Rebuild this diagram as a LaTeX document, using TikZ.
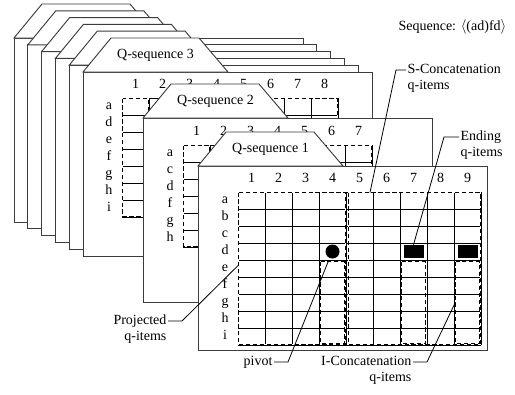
\documentclass[tikz,border=0pt]{standalone}
\usepackage{fontspec}
\setmainfont{Liberation Serif}
\usetikzlibrary{calc}
\definecolor{sheetgray}{RGB}{60,60,60}

\begin{document}
\begin{tikzpicture}[
  x=0.75pt,
  y=-0.75pt,
  sheet line/.style={
    draw=sheetgray,
    line width=0.7pt,
    fill=white
  },
  grid line/.style={
    draw=black,
    line width=0.65pt
  },
  item box/.style={
    draw=black,
    line width=1.1pt,
    dash pattern=on 3.2pt off 2pt
  },
  outer box/.style={
    item box,
    preaction={draw=white, solid, line width=1.3pt}
  },
  pointer/.style={
    draw=black,
    line width=0.6pt
  },
  label text/.style={
    font=\fontsize{10.5}{12}\selectfont,
    inner sep=1pt,
    text height=7.5pt,
    text depth=2.5pt
  },
  axis text/.style={
    label text,
    inner sep=0pt
  },
  tab text/.style={label text},
  pivot dot/.style={
    circle,
    fill=black,
    inner sep=0pt,
    minimum size=10.5pt
  },
  end mark/.style={
    rectangle,
    fill=black,
    inner sep=0pt,
    minimum width=15pt,
    minimum height=9.75pt
  },
  pics/sheet/.style={
    code={
      \draw[sheet line] (0,0) rectangle (\sheetw,\sheeth);
      \draw[sheet line] (0,0) -- (28,-34) -- (116,-34) -- (145,0) -- cycle;
    }
  },
  pics/qgrid/.style n args={3}{
    code={
      \foreach \ci in {0,...,#1}
        \draw[grid line] (\ci*\cw,0) -- (\ci*\cw,#2*\rh);
      \foreach \ri in {0,...,#2}
        \draw[grid line] (0,\ri*\rh) -- (#1*\cw,\ri*\rh);
      \foreach \ci in {1,...,#1}
        \node[axis text] (-col\ci) at (\ci*\cw-0.5*\cw,-12.5) {\ci};
      \foreach \rl [count=\ri] in {#3}
        \node[axis text] (-row\ri) at (-13,\ri*\rh-0.5*\rh) {\rl};
    }
  }
]

\def\sheetw{289}
\def\sheeth{184}
\def\cw{27}
\def\rh{17}

\useasboundingbox (0,0) rectangle (515,394);

% Earlier q-sequences, stacked from back to front.
\foreach \k in {0,...,4}{
  \pic at (14+13.8*\k,38+6.8*\k) {sheet};
}

% Q-sequence 3
\pic at (83,72) {sheet};
\node[tab text] (tab3) at (155.5,55) {Q-sequence 3};
\pic (g3) at (122,98) {qgrid={8}{7}{a,d,e,f,g,h,i}};
\begin{scope}[shift={(122,98)}]
  \draw[outer box] (0.5,0.5) rectangle (\cw-0.5,7*\rh-0.5);
  \draw[outer box] (5*\cw+1.5,0.5) rectangle (8*\cw-0.5,7*\rh-0.5);
\end{scope}

% Q-sequence 2
\pic at (143,118) {sheet};
\node[tab text] (tab2) at (215.5,101) {Q-sequence 2};
\pic (g2) at (183,145) {qgrid={7}{6}{a,c,d,f,g,h}};
\begin{scope}[shift={(183,145)}]
  \draw[outer box] (0.5,0.5) rectangle (\cw-0.5,6*\rh-0.5);
  \draw[outer box] (5*\cw+1.5,0.5) rectangle (7*\cw-0.5,6*\rh-0.5);
\end{scope}

% Q-sequence 1: projected and concatenation q-items.
\pic at (198,166) {sheet};
\node[tab text] (tab1) at (270.5,149) {Q-sequence 1};
\pic (g1) at (238,192) {qgrid={9}{9}{a,b,c,d,e,f,g,h,i}};
\begin{scope}[shift={(238,192)}]
  \draw[outer box] (0.5,0.5) rectangle (4*\cw-0.5,9*\rh-0.5);
  \draw[outer box] (4*\cw+2.5,0.5) rectangle (9*\cw-0.5,9*\rh-0.5);
  \foreach \ci in {3,6,8}
    \draw[item box] (\ci*\cw+1.5,4*\rh+1.5) rectangle (\ci*\cw+\cw-1.5,9*\rh-1.5);
  \node[pivot dot] (pivot) at (3.5*\cw,3.5*\rh) {};
  \node[end mark] (end7) at (6.5*\cw,3.5*\rh) {};
  \node[end mark] (end9) at (8.5*\cw,3.5*\rh) {};
  \coordinate (proj-tip) at (0.5,4.3*\rh);
  \coordinate (pivot-tip) at (90,70);
  \coordinate (sconc-tip) at (132,0.5);
  \coordinate (iconc-tip) at (8*\cw+1.5,110);
\end{scope}

% Labels and their pointers.
\node[label text, anchor=west] (seq) at (397,27) {Sequence: $\langle$(ad)fd$\rangle$};

\node[label text, anchor=west] (sconc) at (406,70) {S-Concatenation};
\node[label text, anchor=north west] (sconc2) at (sconc.south west) {q-items};
\draw[pointer] (sconc.west) -- ++(-10,0) -- (sconc-tip);

\node[label text, anchor=west] (ending) at (459,137) {Ending};
\node[label text, anchor=north west] (ending2) at (ending.south west) {q-items};
\draw[pointer] (ending.west) -- ++(-15,0) -- (end7.north);

\node[label text, anchor=east] (proj) at (168,321) {Projected};
\node[label text, anchor=north east] (proj2) at (proj.south east) {q-items};
\draw[pointer] (proj.east) -- ++(14,0) -- (proj-tip);

\node[label text, anchor=east] (pivlbl) at (274,362) {pivot};
\draw[pointer] (pivlbl.east) -- ++(14,0) -- (pivot-tip);

\node[label text, anchor=east] (iconc) at (413,362) {I-Concatenation};
\node[label text, anchor=north east] (iconc2) at (iconc.south east) {q-items};
\draw[pointer] (iconc.east) -- ++(14,0) -- (iconc-tip);

\end{tikzpicture}
\end{document}
